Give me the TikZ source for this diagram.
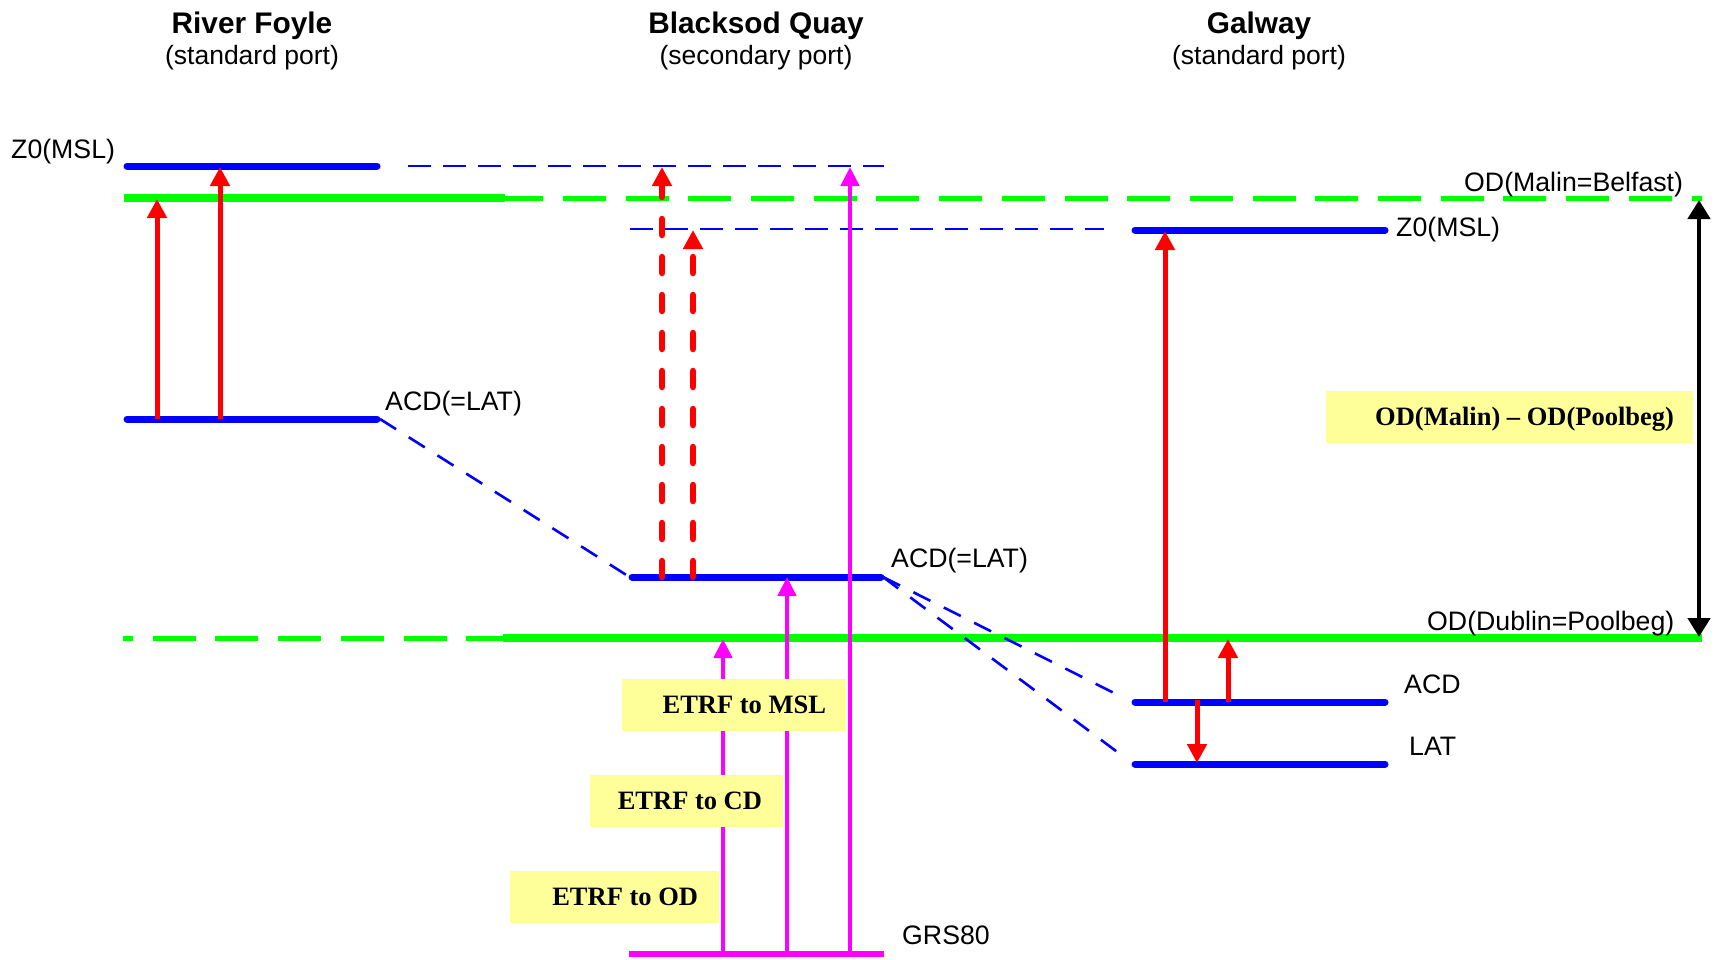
\documentclass[tikz,border=0pt]{standalone}
\usepackage{fontspec}
\setmainfont{Liberation Sans}
\newfontfamily\serifbf{Liberation Serif}
\usetikzlibrary{arrows.meta}
\definecolor{cblue}{RGB}{0,0,255}
\definecolor{cgreen}{RGB}{0,255,0}
\definecolor{cred}{RGB}{255,0,0}
\definecolor{cmag}{RGB}{255,0,255}
\definecolor{cyel}{RGB}{255,255,153}
\newcommand{\nsp}{\spaceskip=6.6pt\relax}
\begin{document}
\begin{tikzpicture}[x=1pt,y=-1pt,
  level/.style={cblue,line width=7pt,line cap=round},
  bdash/.style={cblue,line width=2.6pt,dash pattern=on 23pt off 12pt},
  ddash/.style={cblue,line width=2.6pt,dash pattern=on 19pt off 15pt},
  odsolid/.style={cgreen,line width=8pt},
  oddash/.style={cgreen,line width=5pt,dash pattern=on 43pt off 19.7pt},
  redarr/.style={cred,line width=5pt,-{Triangle[width=19pt,length=19pt]}},
  reddash/.style={cred,line width=6.5pt,line cap=round,dash pattern=on 16pt off 22pt,-{Triangle[width=19pt,length=19pt]}},
  magarr/.style={cmag,line width=4.6pt,-{Triangle[width=18pt,length=19pt]}},
  blkarr/.style={black,line width=4.6pt,{Triangle[width=22pt,length=19pt]}-{Triangle[width=22pt,length=19pt]}},
  lab/.style={font=\fontsize{26.7}{30}\selectfont,inner sep=0pt,anchor=base west},
  ttl/.style={font=\fontsize{29.8}{34}\selectfont\bfseries,inner sep=0pt,anchor=base},
  subttl/.style={font=\fontsize{26.5}{30}\selectfont,inner sep=0pt,anchor=base},
  ybox/.style={fill=cyel,inner ysep=0pt,minimum height=52pt,align=right,
    font=\serifbf\bfseries\fontsize{26.5}{30}\selectfont,text height=17.5pt,text depth=0pt}
]
\useasboundingbox (0,0) rectangle (1716,959);
\fill[white] (0,0) rectangle (1716,959);

% titles
\node[ttl] (t1) at (252,33) {River Foyle};
\node[subttl] (s1) at (252,64) {(standard port)};
\node[ttl] (t2) at (756,33) {Blacksod Quay};
\node[subttl] (s2) at (756,64) {(secondary port)};
\node[ttl] (t3) at (1259,33) {Galway};
\node[subttl] (s3) at (1259,64) {(standard port)};

% coordinates
\coordinate (rfZ0L) at (127,166);  \coordinate (rfZ0R) at (377,166);
\coordinate (rfACDL) at (127,419); \coordinate (rfACDR) at (377,419);
\coordinate (rfACDe) at (380,419);
\coordinate (bqACDL) at (632,577); \coordinate (bqACDR) at (881,577);
\coordinate (bqACDw) at (628,576); \coordinate (bqACDe) at (883,577);
\coordinate (grsL) at (629,954);   \coordinate (grsR) at (884,954);
\coordinate (gwZ0L) at (1135,230); \coordinate (gwZ0R) at (1385,230);
\coordinate (gwACDL) at (1135,702); \coordinate (gwACDR) at (1385,702);
\coordinate (gwLATL) at (1135,764); \coordinate (gwLATR) at (1385,764);
\coordinate (gwACDw) at (1118,695); \coordinate (gwLATw) at (1120,754);
\coordinate (mslA) at (408,166);   \coordinate (mslB) at (884,166);
\coordinate (mslC) at (630,229);   \coordinate (mslD) at (1104,229);
\coordinate (malA) at (124,198);   \coordinate (malB) at (505,198); \coordinate (malC) at (1702,198);
\coordinate (dubA) at (123,638);   \coordinate (dubB) at (503,638); \coordinate (dubC) at (1702,638);

% green OD lines
\draw[oddash] (malA) -- (malC);
\draw[odsolid] (malA) -- (malB);
\draw[oddash,dash phase=33pt] (dubA) -- (dubB);
\draw[cgreen,line width=7.5pt] (dubB) -- (dubC);

% blue levels
\draw[level] (rfZ0L) -- (rfZ0R);
\draw[level] (rfACDL) -- (rfACDR);
\draw[level] (bqACDL) -- (bqACDR);
\draw[level] (gwZ0L) -- (gwZ0R);
\draw[level] (gwACDL) -- (gwACDR);
\draw[level] (gwLATL) -- (gwLATR);
\draw[cmag,line width=5.5pt] (grsL) -- (grsR);

% blue dashed links
\draw[bdash] (mslA) -- (mslB);
\draw[bdash] (mslC) -- (mslD);
\draw[ddash] (rfACDe) -- (bqACDw);
\draw[ddash] (bqACDe) -- (gwACDw);
\draw[ddash] (bqACDe) -- (gwLATw);

% arrow end points
\coordinate (r1a) at (157,419); \coordinate (r1b) at (157,199);
\coordinate (r2a) at (220,419); \coordinate (r2b) at (220,167);
\coordinate (r3a) at (662,577); \coordinate (r3b) at (662,167);
\coordinate (r4a) at (693,577); \coordinate (r4b) at (693,230);
\coordinate (r5a) at (1165,702); \coordinate (r5b) at (1165,231);
\coordinate (r6a) at (1228,702); \coordinate (r6b) at (1228,639);
\coordinate (r7a) at (1197,700); \coordinate (r7b) at (1197,763);
\coordinate (m1a) at (723,954); \coordinate (m1b) at (723,639);
\coordinate (m2a) at (787,954); \coordinate (m2b) at (787,577);
\coordinate (m3a) at (850,954); \coordinate (m3b) at (850,167);
\coordinate (k1) at (1699,200); \coordinate (k2) at (1699,637);

% red arrows
\draw[redarr] (r1a) -- (r1b);
\draw[redarr] (r2a) -- (r2b);
\draw[reddash] (r3a) -- (r3b);
\draw[reddash] (r4a) -- (r4b);
\draw[redarr] (r5a) -- (r5b);
\draw[redarr] (r6a) -- (r6b);
\draw[redarr] (r7a) -- (r7b);

% magenta arrows
\draw[magarr] (m1a) -- (m1b);
\draw[magarr] (m2a) -- (m2b);
\draw[magarr] (m3a) -- (m3b);

% black double arrow
\draw[blkarr] (k1) -- (k2);

% yellow boxes
\node[ybox,text width=184pt,inner xsep=20pt] (bmsl) at (734,705) {\nsp ETRF to MSL};
\node[ybox,text width=151pt,inner xsep=21pt] (bcd) at (686.5,801) {\nsp ETRF to CD};
\node[ybox,text width=167pt,inner xsep=21pt] (bod) at (614.5,897) {\nsp ETRF to OD};
\node[ybox,text width=329pt,inner xsep=19pt] (bmal) at (1509.5,417) {\nsp OD(Malin) – OD(Poolbeg)};

% labels
\node[lab] (lz0a) at (11,158) {Z0(MSL)};
\node[lab] (lacd1) at (385,410) {ACD(=LAT)};
\node[lab] (lacd2) at (891,567) {ACD(=LAT)};
\node[lab] (lmal) at (1464,191) {OD(Malin=Belfast)};
\node[lab] (lz0b) at (1396,236) {Z0(MSL)};
\node[lab] (ldub) at (1427,630) {OD(Dublin=Poolbeg)};
\node[lab] (lacd3) at (1404,693) {ACD};
\node[lab] (llat) at (1409,755) {LAT};
\node[lab] (lgrs) at (902,944) {GRS80};
\end{tikzpicture}
\end{document}
